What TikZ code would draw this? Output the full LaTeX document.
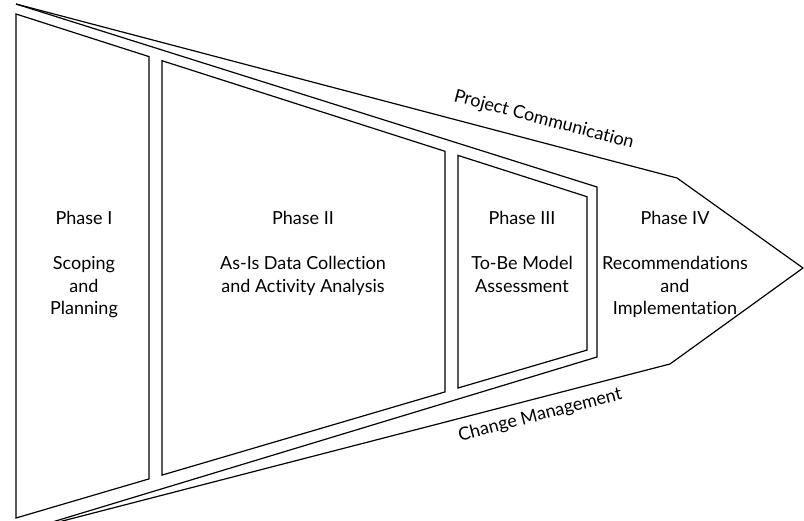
\documentclass[tikz,border=0pt]{standalone}
\usepackage{fontspec}
\setmainfont{Lato}[Ligatures=NoCommon]

\begin{document}
\begin{tikzpicture}[x=1pt,y=-1pt,line width=1.2pt,
    phase/.style={align=center, anchor=north, inner sep=0pt, font=\fontsize{18}{22.5}\selectfont},
    band/.style={sloped, font=\fontsize{18}{22.5}\selectfont}]
    \useasboundingbox (0,0) rectangle (804,520);
    \clip (0,0) rectangle (804,520);
    \coordinate (tl) at (16,4);
    \coordinate (bl) at (16,533);
    \coordinate (tc) at (677,178);
    \coordinate (tip) at (803,268);
    \coordinate (bc) at (670,364);
    \coordinate (et) at (597,187);
    \coordinate (eb) at (597,357);
    \draw (tl) -- (tc) -- (tip) -- (bc) -- (bl);
    \draw (tl) -- (et) -- (eb) -- (bl);
    \draw (16,14) -- (149,56.6) -- (149,478.9) -- (16,518) -- cycle;
    \draw (162,60.7) -- (445,151.3) -- (445,391.9) -- (162,475.1) -- cycle;
    \draw (458,155.4) -- (587,196.7) -- (587,350.1) -- (458,388) -- cycle;
    \path (tl) -- node[band, above=10pt, pos=0.79] (comm) {Project Communication} (tc);
    \path (bl) -- node[band, below=5pt, pos=0.795] (chg) {Change Management} (bc);
    \node[phase] (one) at (84,211) {Phase I\\[22.5pt]Scoping\\and\\Planning};
    \node[phase] (two) at (303,211) {Phase II\\[22.5pt]As-Is Data Collection\\and Activity Analysis};
    \node[phase] (three) at (522,211) {Phase III\\[22.5pt]To-Be Model\\Assessment};
    \node[phase] (four) at (675,211) {Phase IV\\[22.5pt]Recommendations\\and\\Implementation};
  \end{tikzpicture}
\end{document}
